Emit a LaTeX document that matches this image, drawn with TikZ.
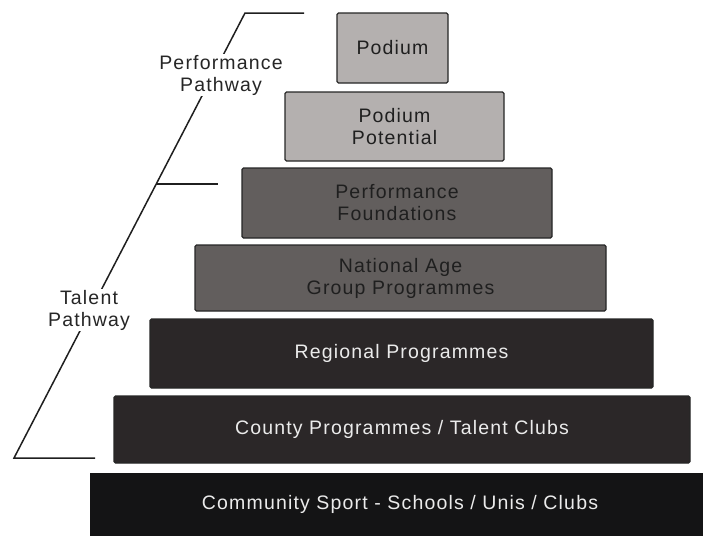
\documentclass[tikz,border=0pt]{standalone}
\usepackage{fontspec}
\setmainfont[LetterSpace=6]{Liberation Sans}
\begin{document}
\begin{tikzpicture}[x=1pt,y=-1pt,
  tier/.style={draw=black!85, line width=1.3pt, rounded corners=1.5pt,
    align=center, inner sep=0pt, font=\fontsize{19.5}{22}\selectfont},
  lighttier/.style={tier, fill=tierlight, text=black!88},
  midtier/.style={tier, fill=tiermid, text=black!88},
  darktier/.style={tier, fill=tierdark, text=white!92!black},
  basetier/.style={draw=none, fill=tierbase, text=white!92!black,
    align=center, inner sep=0pt, font=\fontsize{19.5}{22}\selectfont},
  pathlabel/.style={fill=white, inner sep=1pt, align=center,
    text=black!85, font=\fontsize{19.5}{22}\selectfont},
  bracket/.style={line width=1.5pt, draw=black!88}]
\definecolor{tierlight}{HTML}{B4B0AF}
\definecolor{tiermid}{HTML}{625E5D}
\definecolor{tierdark}{HTML}{2B2728}
\definecolor{tierbase}{HTML}{141415}
\useasboundingbox (0,0) rectangle (703,536);

% pyramid tiers, top to bottom
\node[lighttier, minimum width=111pt, minimum height=70pt] (podium) at (392.5,48) {Podium};
\node[lighttier, minimum width=219pt, minimum height=69pt] (potential) at (394.5,126.5) {Podium\\Potential};
\node[midtier, minimum width=310pt, minimum height=70pt] (foundations) at (397,203) {Performance\\Foundations};
\node[midtier, minimum width=411pt, minimum height=66pt] (agegroup) at (400.5,278) {National Age\\Group Programmes};
\node[darktier, minimum width=503pt, minimum height=69pt] (regional) at (401.5,353.5) {Regional Programmes};
\node[darktier, minimum width=576pt, minimum height=67pt] (county) at (402,429.5) {County Programmes / Talent Clubs};
\node[basetier, minimum width=613pt, minimum height=63pt, anchor=north west] (community) at (90,473) {};
\node[text=white!92!black, font=\fontsize{19.5}{22}\selectfont] (communitytext) at (400,504) {Community Sport - Schools / Unis / Clubs};

% pathway bracket
\coordinate (top) at (245,13);
\coordinate (topend) at (304,13);
\coordinate (mid) at (156.2,184);
\coordinate (midend) at (218,184);
\coordinate (bottom) at (14,458);
\coordinate (bottomend) at (95,458);
\draw[bracket] (topend) -- (top) -- (bottom) -- (bottomend);
\draw[bracket] (mid) -- (midend);

% pathway labels sit on the bracket line
\node[pathlabel] (perfpath) at (221,75) {Performance\\Pathway};
\node[pathlabel] (talentpath) at (89,310) {Talent\\Pathway};
\end{tikzpicture}
\end{document}
